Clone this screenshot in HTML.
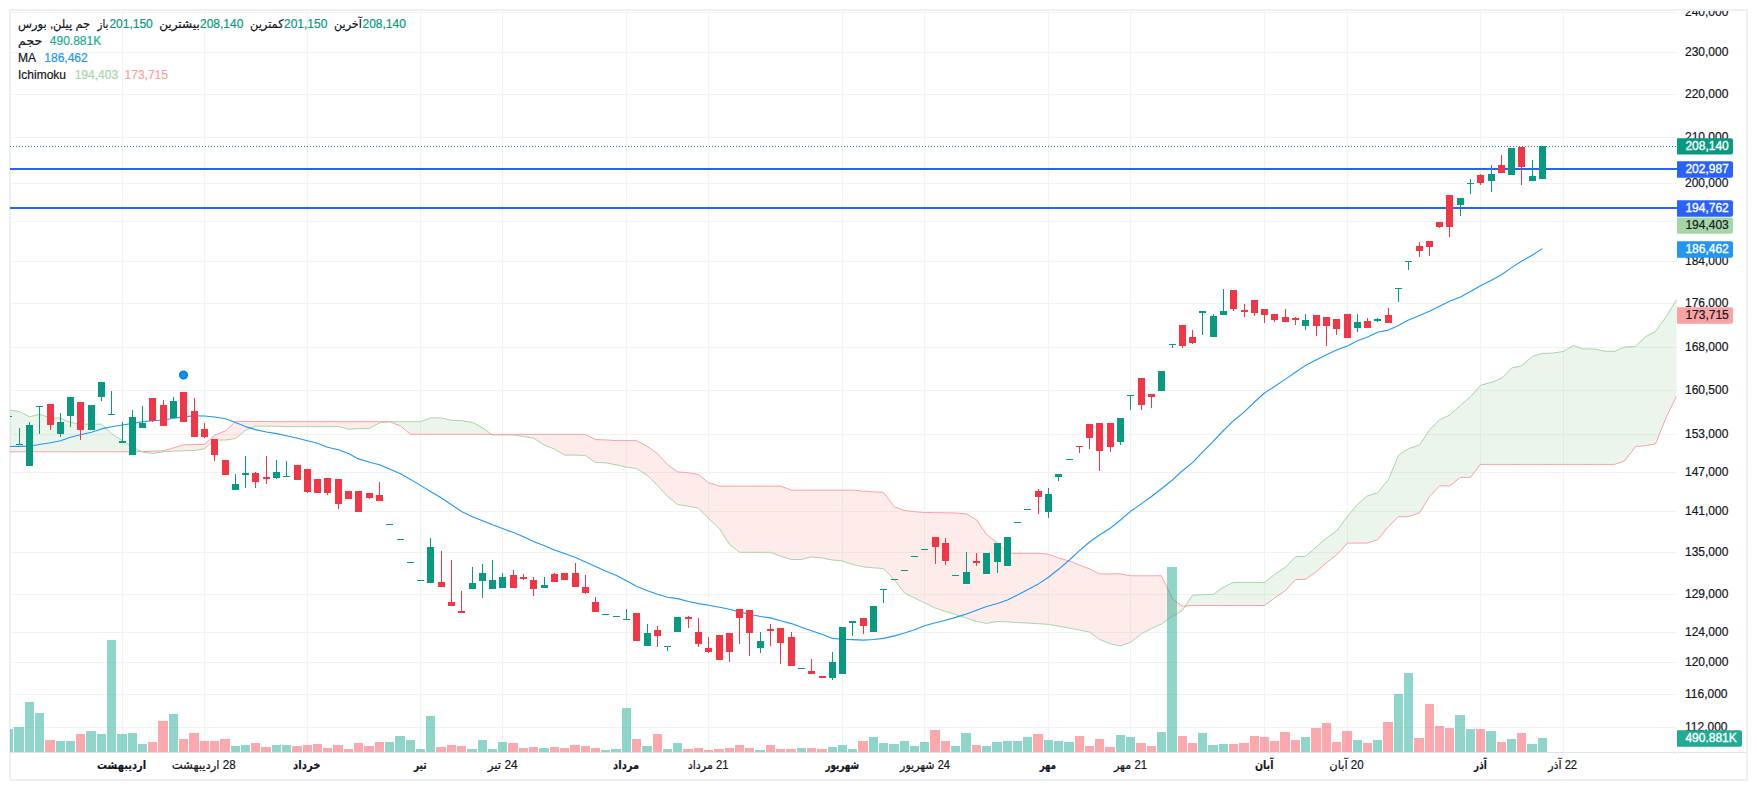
<!DOCTYPE html>
<html lang="fa"><head><meta charset="utf-8"><title>Chart</title>
<style>html,body{margin:0;padding:0;background:#fff}body{width:1757px;height:790px;overflow:hidden}svg{display:block}text{font-family:"Liberation Sans","DejaVu Sans",sans-serif;font-size:12px}</style>
</head><body>
<svg width="1757" height="790" viewBox="0 0 1757 790">
<defs><clipPath id="pane"><rect x="10" y="11" width="1667" height="741"/></clipPath>
<clipPath id="axis"><rect x="1677" y="11" width="69" height="741"/></clipPath></defs>
<rect x="0" y="0" width="1757" height="790" fill="#fff"/>
<rect x="10" y="10" width="1737" height="770" fill="none" stroke="#eeeff5" stroke-width="2"/>
<g shape-rendering="crispEdges" fill="#f1f3f3">
<rect x="10" y="12" width="1667" height="1"/>
<rect x="10" y="52" width="1667" height="1"/>
<rect x="10" y="94" width="1667" height="1"/>
<rect x="10" y="137" width="1667" height="1"/>
<rect x="10" y="183" width="1667" height="1"/>
<rect x="10" y="221" width="1667" height="1"/>
<rect x="10" y="261" width="1667" height="1"/>
<rect x="10" y="303" width="1667" height="1"/>
<rect x="10" y="347" width="1667" height="1"/>
<rect x="10" y="390" width="1667" height="1"/>
<rect x="10" y="434" width="1667" height="1"/>
<rect x="10" y="472" width="1667" height="1"/>
<rect x="10" y="511" width="1667" height="1"/>
<rect x="10" y="552" width="1667" height="1"/>
<rect x="10" y="594" width="1667" height="1"/>
<rect x="10" y="632" width="1667" height="1"/>
<rect x="10" y="662" width="1667" height="1"/>
<rect x="10" y="694" width="1667" height="1"/>
<rect x="10" y="727" width="1667" height="1"/>
<rect x="122" y="11" width="1" height="741"/>
<rect x="204" y="11" width="1" height="741"/>
<rect x="307" y="11" width="1" height="741"/>
<rect x="420" y="11" width="1" height="741"/>
<rect x="502" y="11" width="1" height="741"/>
<rect x="626" y="11" width="1" height="741"/>
<rect x="708" y="11" width="1" height="741"/>
<rect x="842" y="11" width="1" height="741"/>
<rect x="924" y="11" width="1" height="741"/>
<rect x="1048" y="11" width="1" height="741"/>
<rect x="1130" y="11" width="1" height="741"/>
<rect x="1264" y="11" width="1" height="741"/>
<rect x="1347" y="11" width="1" height="741"/>
<rect x="1480" y="11" width="1" height="741"/>
<rect x="1563" y="11" width="1" height="741"/>
</g>
<g clip-path="url(#pane)">
<polygon fill="rgba(67,160,71,0.1)" points="10.0,410.1 19.5,411.6 29.5,416.8 39.5,414.3 50.5,417.9 60.5,418.2 70.5,422.5 80.5,424.2 91.5,424.2 101.5,424.2 111.5,433.6 122.5,440.8 132.5,446.8 141.6,451.5 141.6,451.5 132.5,451.8 122.5,451.8 111.5,451.8 101.5,451.8 91.5,451.8 80.5,451.8 70.5,451.8 60.5,451.8 50.5,451.8 39.5,451.8 29.5,451.8 19.5,451.8 10.0,451.8"/>
<polygon fill="rgba(244,67,54,0.1)" points="141.6,451.5 142.5,452.0 152.5,453.4 163.5,451.8 173.5,451.1 183.5,450.8 194.5,450.5 204.5,448.7 214.5,440.0 225.5,440.0 235.5,438.5 245.5,430.3 255.5,426.2 266.5,426.2 276.5,426.2 286.5,426.7 297.5,426.7 307.5,426.6 317.5,426.6 327.5,426.5 338.5,426.5 348.5,429.3 358.5,428.6 369.5,428.3 379.5,422.9 389.5,421.7 389.5,421.7 379.5,421.7 369.5,421.7 358.5,421.7 348.5,421.6 338.5,421.6 327.5,421.6 317.5,421.6 307.5,421.6 297.5,421.6 286.5,421.6 276.5,421.6 266.5,421.5 255.5,421.5 245.5,421.5 235.5,421.5 225.5,430.8 214.5,435.4 204.5,444.4 194.5,444.6 183.5,444.8 173.5,447.8 163.5,450.8 152.5,451.2 142.5,451.5 141.6,451.5"/>
<polygon fill="rgba(67,160,71,0.1)" points="389.5,421.7 400.5,421.7 410.5,421.7 420.5,421.7 430.5,417.9 441.5,417.9 451.5,420.3 461.5,420.7 472.5,422.4 482.5,427.9 491.7,434.3 491.7,434.3 482.5,434.3 472.5,434.3 461.5,434.3 451.5,434.3 441.5,434.3 430.5,434.3 420.5,434.3 410.5,434.3 400.5,426.0 389.5,421.7"/>
<polygon fill="rgba(244,67,54,0.1)" points="491.7,434.3 492.5,434.9 502.5,434.9 513.5,434.9 523.5,436.5 533.5,438.2 544.5,445.1 554.5,449.1 564.5,455.1 575.5,455.1 585.5,455.4 595.5,462.5 605.5,462.8 616.5,464.9 626.5,467.1 636.5,468.5 647.5,475.7 657.5,485.5 667.5,496.4 677.5,504.5 688.5,506.2 698.5,508.1 708.5,518.5 719.5,528.6 729.5,544.4 739.5,552.3 749.5,552.3 760.5,552.3 770.5,552.3 780.5,556.1 791.5,559.5 801.5,559.5 811.5,556.9 822.5,558.1 832.5,560.0 842.5,561.0 852.5,564.5 863.5,566.9 873.5,567.8 883.5,568.6 894.5,580.0 904.5,593.0 914.5,598.0 924.5,602.8 935.5,608.2 945.5,611.5 955.5,614.4 966.5,618.0 976.5,621.5 986.5,623.4 997.5,621.5 1007.5,621.8 1017.5,622.5 1027.5,623.0 1038.5,623.7 1048.5,624.4 1058.5,626.1 1069.5,628.1 1079.5,630.0 1089.5,632.1 1099.5,639.4 1110.5,643.8 1120.5,646.0 1130.5,642.4 1141.5,633.7 1151.5,628.6 1161.5,624.0 1172.5,616.1 1182.5,610.4 1185.3,606.1 1185.3,606.1 1182.5,606.3 1172.5,598.8 1161.5,575.8 1151.5,575.8 1141.5,575.8 1130.5,575.8 1120.5,573.9 1110.5,573.9 1099.5,573.9 1089.5,568.9 1079.5,565.1 1069.5,561.0 1058.5,557.9 1048.5,554.3 1038.5,553.3 1027.5,553.3 1017.5,553.3 1007.5,553.2 997.5,543.0 986.5,534.4 976.5,519.8 966.5,513.9 955.5,513.0 945.5,512.8 935.5,512.7 924.5,512.5 914.5,511.7 904.5,510.4 894.5,507.0 883.5,492.4 873.5,491.9 863.5,491.2 852.5,490.1 842.5,490.1 832.5,490.1 822.5,490.1 811.5,490.1 801.5,490.1 791.5,490.1 780.5,486.1 770.5,486.1 760.5,486.1 749.5,486.1 739.5,486.1 729.5,486.1 719.5,486.1 708.5,482.8 698.5,474.5 688.5,472.8 677.5,471.9 667.5,464.5 657.5,453.7 647.5,446.5 636.5,440.6 626.5,440.6 616.5,440.6 605.5,439.9 595.5,439.6 585.5,434.4 575.5,434.4 564.5,434.4 554.5,434.4 544.5,434.4 533.5,434.4 523.5,434.4 513.5,434.4 502.5,434.4 492.5,434.4 491.7,434.3"/>
<polygon fill="rgba(67,160,71,0.1)" points="1185.3,606.1 1192.5,595.2 1202.5,594.8 1213.5,594.2 1223.5,587.1 1233.5,582.4 1244.5,582.4 1254.5,582.4 1264.5,582.4 1274.5,574.5 1285.5,567.2 1295.5,556.7 1305.5,556.3 1316.5,546.6 1326.5,538.1 1336.5,531.0 1347.5,516.2 1357.5,504.3 1367.5,495.8 1377.5,492.8 1388.5,479.4 1398.5,455.1 1408.5,448.6 1419.5,445.0 1429.5,429.8 1439.5,419.7 1449.5,415.2 1460.5,405.3 1470.5,396.7 1480.5,385.3 1491.5,382.3 1501.5,378.4 1511.5,368.0 1521.5,365.9 1532.5,356.3 1542.5,353.4 1552.5,353.1 1563.5,351.5 1573.5,345.4 1583.5,349.0 1594.5,349.0 1604.5,351.1 1614.5,351.3 1624.5,347.0 1635.5,346.5 1645.5,336.7 1655.5,331.5 1666.5,316.2 1676.5,299.6 1676.5,396.4 1666.5,416.5 1655.5,443.9 1645.5,445.7 1635.5,446.6 1624.5,461.0 1614.5,464.4 1604.5,464.4 1594.5,464.4 1583.5,464.4 1573.5,464.4 1563.5,464.4 1552.5,464.4 1542.5,464.4 1532.5,464.4 1521.5,464.4 1511.5,464.4 1501.5,464.4 1491.5,464.4 1480.5,464.4 1470.5,477.4 1460.5,477.4 1449.5,485.9 1439.5,485.9 1429.5,496.6 1419.5,512.8 1408.5,516.7 1398.5,516.7 1388.5,526.6 1377.5,539.8 1367.5,543.0 1357.5,543.1 1347.5,543.1 1336.5,555.1 1326.5,562.8 1316.5,571.5 1305.5,579.2 1295.5,579.6 1285.5,590.5 1274.5,598.2 1264.5,605.5 1254.5,605.5 1244.5,605.5 1233.5,605.5 1223.5,605.5 1213.5,605.5 1202.5,605.5 1192.5,605.5 1185.3,606.1"/>
<polyline fill="none" stroke="#a5d6a7" stroke-width="1" stroke-linejoin="round" points="10.0,410.1 19.5,411.6 29.5,416.8 39.5,414.3 50.5,417.9 60.5,418.2 70.5,422.5 80.5,424.2 91.5,424.2 101.5,424.2 111.5,433.6 122.5,440.8 132.5,446.8 142.5,452.0 152.5,453.4 163.5,451.8 173.5,451.1 183.5,450.8 194.5,450.5 204.5,448.7 214.5,440.0 225.5,440.0 235.5,438.5 245.5,430.3 255.5,426.2 266.5,426.2 276.5,426.2 286.5,426.7 297.5,426.7 307.5,426.6 317.5,426.6 327.5,426.5 338.5,426.5 348.5,429.3 358.5,428.6 369.5,428.3 379.5,422.9 389.5,421.7 400.5,421.7 410.5,421.7 420.5,421.7 430.5,417.9 441.5,417.9 451.5,420.3 461.5,420.7 472.5,422.4 482.5,427.9 492.5,434.9 502.5,434.9 513.5,434.9 523.5,436.5 533.5,438.2 544.5,445.1 554.5,449.1 564.5,455.1 575.5,455.1 585.5,455.4 595.5,462.5 605.5,462.8 616.5,464.9 626.5,467.1 636.5,468.5 647.5,475.7 657.5,485.5 667.5,496.4 677.5,504.5 688.5,506.2 698.5,508.1 708.5,518.5 719.5,528.6 729.5,544.4 739.5,552.3 749.5,552.3 760.5,552.3 770.5,552.3 780.5,556.1 791.5,559.5 801.5,559.5 811.5,556.9 822.5,558.1 832.5,560.0 842.5,561.0 852.5,564.5 863.5,566.9 873.5,567.8 883.5,568.6 894.5,580.0 904.5,593.0 914.5,598.0 924.5,602.8 935.5,608.2 945.5,611.5 955.5,614.4 966.5,618.0 976.5,621.5 986.5,623.4 997.5,621.5 1007.5,621.8 1017.5,622.5 1027.5,623.0 1038.5,623.7 1048.5,624.4 1058.5,626.1 1069.5,628.1 1079.5,630.0 1089.5,632.1 1099.5,639.4 1110.5,643.8 1120.5,646.0 1130.5,642.4 1141.5,633.7 1151.5,628.6 1161.5,624.0 1172.5,616.1 1182.5,610.4 1192.5,595.2 1202.5,594.8 1213.5,594.2 1223.5,587.1 1233.5,582.4 1244.5,582.4 1254.5,582.4 1264.5,582.4 1274.5,574.5 1285.5,567.2 1295.5,556.7 1305.5,556.3 1316.5,546.6 1326.5,538.1 1336.5,531.0 1347.5,516.2 1357.5,504.3 1367.5,495.8 1377.5,492.8 1388.5,479.4 1398.5,455.1 1408.5,448.6 1419.5,445.0 1429.5,429.8 1439.5,419.7 1449.5,415.2 1460.5,405.3 1470.5,396.7 1480.5,385.3 1491.5,382.3 1501.5,378.4 1511.5,368.0 1521.5,365.9 1532.5,356.3 1542.5,353.4 1552.5,353.1 1563.5,351.5 1573.5,345.4 1583.5,349.0 1594.5,349.0 1604.5,351.1 1614.5,351.3 1624.5,347.0 1635.5,346.5 1645.5,336.7 1655.5,331.5 1666.5,316.2 1676.5,299.6"/>
<polyline fill="none" stroke="#faa1a4" stroke-width="1" stroke-linejoin="round" points="10.0,451.8 19.5,451.8 29.5,451.8 39.5,451.8 50.5,451.8 60.5,451.8 70.5,451.8 80.5,451.8 91.5,451.8 101.5,451.8 111.5,451.8 122.5,451.8 132.5,451.8 142.5,451.5 152.5,451.2 163.5,450.8 173.5,447.8 183.5,444.8 194.5,444.6 204.5,444.4 214.5,435.4 225.5,430.8 235.5,421.5 245.5,421.5 255.5,421.5 266.5,421.5 276.5,421.6 286.5,421.6 297.5,421.6 307.5,421.6 317.5,421.6 327.5,421.6 338.5,421.6 348.5,421.6 358.5,421.7 369.5,421.7 379.5,421.7 389.5,421.7 400.5,426.0 410.5,434.3 420.5,434.3 430.5,434.3 441.5,434.3 451.5,434.3 461.5,434.3 472.5,434.3 482.5,434.3 492.5,434.4 502.5,434.4 513.5,434.4 523.5,434.4 533.5,434.4 544.5,434.4 554.5,434.4 564.5,434.4 575.5,434.4 585.5,434.4 595.5,439.6 605.5,439.9 616.5,440.6 626.5,440.6 636.5,440.6 647.5,446.5 657.5,453.7 667.5,464.5 677.5,471.9 688.5,472.8 698.5,474.5 708.5,482.8 719.5,486.1 729.5,486.1 739.5,486.1 749.5,486.1 760.5,486.1 770.5,486.1 780.5,486.1 791.5,490.1 801.5,490.1 811.5,490.1 822.5,490.1 832.5,490.1 842.5,490.1 852.5,490.1 863.5,491.2 873.5,491.9 883.5,492.4 894.5,507.0 904.5,510.4 914.5,511.7 924.5,512.5 935.5,512.7 945.5,512.8 955.5,513.0 966.5,513.9 976.5,519.8 986.5,534.4 997.5,543.0 1007.5,553.2 1017.5,553.3 1027.5,553.3 1038.5,553.3 1048.5,554.3 1058.5,557.9 1069.5,561.0 1079.5,565.1 1089.5,568.9 1099.5,573.9 1110.5,573.9 1120.5,573.9 1130.5,575.8 1141.5,575.8 1151.5,575.8 1161.5,575.8 1172.5,598.8 1182.5,606.3 1192.5,605.5 1202.5,605.5 1213.5,605.5 1223.5,605.5 1233.5,605.5 1244.5,605.5 1254.5,605.5 1264.5,605.5 1274.5,598.2 1285.5,590.5 1295.5,579.6 1305.5,579.2 1316.5,571.5 1326.5,562.8 1336.5,555.1 1347.5,543.1 1357.5,543.1 1367.5,543.0 1377.5,539.8 1388.5,526.6 1398.5,516.7 1408.5,516.7 1419.5,512.8 1429.5,496.6 1439.5,485.9 1449.5,485.9 1460.5,477.4 1470.5,477.4 1480.5,464.4 1491.5,464.4 1501.5,464.4 1511.5,464.4 1521.5,464.4 1532.5,464.4 1542.5,464.4 1552.5,464.4 1563.5,464.4 1573.5,464.4 1583.5,464.4 1594.5,464.4 1604.5,464.4 1614.5,464.4 1624.5,461.0 1635.5,446.6 1645.5,445.7 1655.5,443.9 1666.5,416.5 1676.5,396.4"/>
<g shape-rendering="crispEdges">
<rect x="4" y="729" width="9" height="23" fill="rgba(34,171,148,0.5)"/>
<rect x="14" y="727" width="10" height="25" fill="rgba(34,171,148,0.5)"/>
<rect x="25" y="702" width="9" height="50" fill="rgba(34,171,148,0.5)"/>
<rect x="35" y="713" width="9" height="39" fill="rgba(34,171,148,0.5)"/>
<rect x="45" y="740" width="10" height="12" fill="rgba(247,82,95,0.5)"/>
<rect x="56" y="741" width="9" height="11" fill="rgba(34,171,148,0.5)"/>
<rect x="66" y="741" width="9" height="11" fill="rgba(34,171,148,0.5)"/>
<rect x="76" y="734" width="9" height="18" fill="rgba(247,82,95,0.5)"/>
<rect x="86" y="731" width="10" height="21" fill="rgba(34,171,148,0.5)"/>
<rect x="97" y="734" width="9" height="18" fill="rgba(34,171,148,0.5)"/>
<rect x="107" y="640" width="9" height="112" fill="rgba(34,171,148,0.5)"/>
<rect x="117" y="734" width="10" height="18" fill="rgba(34,171,148,0.5)"/>
<rect x="128" y="733" width="9" height="19" fill="rgba(34,171,148,0.5)"/>
<rect x="138" y="744" width="9" height="8" fill="rgba(34,171,148,0.5)"/>
<rect x="148" y="742" width="9" height="10" fill="rgba(247,82,95,0.5)"/>
<rect x="158" y="721" width="10" height="31" fill="rgba(247,82,95,0.5)"/>
<rect x="169" y="714" width="9" height="38" fill="rgba(34,171,148,0.5)"/>
<rect x="179" y="739" width="9" height="13" fill="rgba(247,82,95,0.5)"/>
<rect x="189" y="733" width="10" height="19" fill="rgba(247,82,95,0.5)"/>
<rect x="200" y="741" width="9" height="11" fill="rgba(247,82,95,0.5)"/>
<rect x="210" y="741" width="9" height="11" fill="rgba(247,82,95,0.5)"/>
<rect x="220" y="739" width="10" height="13" fill="rgba(247,82,95,0.5)"/>
<rect x="231" y="746" width="9" height="6" fill="rgba(34,171,148,0.5)"/>
<rect x="241" y="745" width="9" height="7" fill="rgba(34,171,148,0.5)"/>
<rect x="251" y="743" width="9" height="9" fill="rgba(247,82,95,0.5)"/>
<rect x="261" y="747" width="10" height="5" fill="rgba(247,82,95,0.5)"/>
<rect x="272" y="745" width="9" height="7" fill="rgba(34,171,148,0.5)"/>
<rect x="282" y="745" width="9" height="7" fill="rgba(34,171,148,0.5)"/>
<rect x="292" y="746" width="10" height="6" fill="rgba(247,82,95,0.5)"/>
<rect x="303" y="745" width="9" height="7" fill="rgba(247,82,95,0.5)"/>
<rect x="313" y="744" width="9" height="8" fill="rgba(247,82,95,0.5)"/>
<rect x="323" y="748" width="9" height="4" fill="rgba(247,82,95,0.5)"/>
<rect x="333" y="745" width="10" height="7" fill="rgba(247,82,95,0.5)"/>
<rect x="344" y="749" width="9" height="3" fill="rgba(247,82,95,0.5)"/>
<rect x="354" y="743" width="9" height="9" fill="rgba(247,82,95,0.5)"/>
<rect x="364" y="746" width="10" height="6" fill="rgba(247,82,95,0.5)"/>
<rect x="375" y="742" width="9" height="10" fill="rgba(247,82,95,0.5)"/>
<rect x="385" y="742" width="9" height="10" fill="rgba(34,171,148,0.5)"/>
<rect x="395" y="736" width="10" height="16" fill="rgba(34,171,148,0.5)"/>
<rect x="406" y="740" width="9" height="12" fill="rgba(34,171,148,0.5)"/>
<rect x="416" y="749" width="9" height="3" fill="rgba(34,171,148,0.5)"/>
<rect x="426" y="716" width="9" height="36" fill="rgba(34,171,148,0.5)"/>
<rect x="436" y="747" width="10" height="5" fill="rgba(247,82,95,0.5)"/>
<rect x="447" y="745" width="9" height="7" fill="rgba(247,82,95,0.5)"/>
<rect x="457" y="746" width="9" height="6" fill="rgba(247,82,95,0.5)"/>
<rect x="467" y="749" width="10" height="3" fill="rgba(34,171,148,0.5)"/>
<rect x="478" y="740" width="9" height="12" fill="rgba(34,171,148,0.5)"/>
<rect x="488" y="749" width="9" height="3" fill="rgba(34,171,148,0.5)"/>
<rect x="498" y="742" width="9" height="10" fill="rgba(34,171,148,0.5)"/>
<rect x="508" y="743" width="10" height="9" fill="rgba(247,82,95,0.5)"/>
<rect x="519" y="748" width="9" height="4" fill="rgba(247,82,95,0.5)"/>
<rect x="529" y="747" width="9" height="5" fill="rgba(247,82,95,0.5)"/>
<rect x="539" y="748" width="10" height="4" fill="rgba(34,171,148,0.5)"/>
<rect x="550" y="747" width="9" height="5" fill="rgba(247,82,95,0.5)"/>
<rect x="560" y="748" width="9" height="4" fill="rgba(247,82,95,0.5)"/>
<rect x="570" y="745" width="10" height="7" fill="rgba(247,82,95,0.5)"/>
<rect x="581" y="746" width="9" height="6" fill="rgba(247,82,95,0.5)"/>
<rect x="591" y="748" width="9" height="4" fill="rgba(247,82,95,0.5)"/>
<rect x="601" y="750" width="9" height="2" fill="rgba(34,171,148,0.5)"/>
<rect x="611" y="749" width="10" height="3" fill="rgba(34,171,148,0.5)"/>
<rect x="622" y="708" width="9" height="44" fill="rgba(34,171,148,0.5)"/>
<rect x="632" y="739" width="9" height="13" fill="rgba(247,82,95,0.5)"/>
<rect x="642" y="746" width="10" height="6" fill="rgba(34,171,148,0.5)"/>
<rect x="653" y="734" width="9" height="18" fill="rgba(247,82,95,0.5)"/>
<rect x="663" y="749" width="9" height="3" fill="rgba(34,171,148,0.5)"/>
<rect x="673" y="743" width="9" height="9" fill="rgba(34,171,148,0.5)"/>
<rect x="683" y="749" width="10" height="3" fill="rgba(247,82,95,0.5)"/>
<rect x="694" y="748" width="9" height="4" fill="rgba(247,82,95,0.5)"/>
<rect x="704" y="750" width="9" height="2" fill="rgba(247,82,95,0.5)"/>
<rect x="714" y="749" width="10" height="3" fill="rgba(247,82,95,0.5)"/>
<rect x="725" y="748" width="9" height="4" fill="rgba(247,82,95,0.5)"/>
<rect x="735" y="745" width="9" height="7" fill="rgba(247,82,95,0.5)"/>
<rect x="745" y="748" width="9" height="4" fill="rgba(247,82,95,0.5)"/>
<rect x="755" y="750" width="10" height="2" fill="rgba(34,171,148,0.5)"/>
<rect x="766" y="745" width="9" height="7" fill="rgba(247,82,95,0.5)"/>
<rect x="776" y="749" width="9" height="3" fill="rgba(247,82,95,0.5)"/>
<rect x="786" y="749" width="10" height="3" fill="rgba(247,82,95,0.5)"/>
<rect x="797" y="748" width="9" height="4" fill="rgba(34,171,148,0.5)"/>
<rect x="807" y="748" width="9" height="4" fill="rgba(247,82,95,0.5)"/>
<rect x="817" y="749" width="10" height="3" fill="rgba(247,82,95,0.5)"/>
<rect x="828" y="747" width="9" height="5" fill="rgba(34,171,148,0.5)"/>
<rect x="838" y="745" width="9" height="7" fill="rgba(34,171,148,0.5)"/>
<rect x="848" y="749" width="9" height="3" fill="rgba(34,171,148,0.5)"/>
<rect x="858" y="741" width="10" height="11" fill="rgba(247,82,95,0.5)"/>
<rect x="869" y="737" width="9" height="15" fill="rgba(34,171,148,0.5)"/>
<rect x="879" y="743" width="9" height="9" fill="rgba(34,171,148,0.5)"/>
<rect x="889" y="744" width="10" height="8" fill="rgba(34,171,148,0.5)"/>
<rect x="900" y="741" width="9" height="11" fill="rgba(34,171,148,0.5)"/>
<rect x="910" y="746" width="9" height="6" fill="rgba(34,171,148,0.5)"/>
<rect x="920" y="742" width="9" height="10" fill="rgba(34,171,148,0.5)"/>
<rect x="930" y="730" width="10" height="22" fill="rgba(247,82,95,0.5)"/>
<rect x="941" y="741" width="9" height="11" fill="rgba(247,82,95,0.5)"/>
<rect x="951" y="746" width="9" height="6" fill="rgba(34,171,148,0.5)"/>
<rect x="961" y="733" width="10" height="19" fill="rgba(34,171,148,0.5)"/>
<rect x="972" y="745" width="9" height="7" fill="rgba(247,82,95,0.5)"/>
<rect x="982" y="746" width="9" height="6" fill="rgba(34,171,148,0.5)"/>
<rect x="992" y="742" width="10" height="10" fill="rgba(34,171,148,0.5)"/>
<rect x="1003" y="741" width="9" height="11" fill="rgba(34,171,148,0.5)"/>
<rect x="1013" y="741" width="9" height="11" fill="rgba(34,171,148,0.5)"/>
<rect x="1023" y="737" width="9" height="15" fill="rgba(34,171,148,0.5)"/>
<rect x="1033" y="734" width="10" height="18" fill="rgba(247,82,95,0.5)"/>
<rect x="1044" y="740" width="9" height="12" fill="rgba(34,171,148,0.5)"/>
<rect x="1054" y="741" width="9" height="11" fill="rgba(34,171,148,0.5)"/>
<rect x="1064" y="742" width="10" height="10" fill="rgba(34,171,148,0.5)"/>
<rect x="1075" y="736" width="9" height="16" fill="rgba(247,82,95,0.5)"/>
<rect x="1085" y="746" width="9" height="6" fill="rgba(247,82,95,0.5)"/>
<rect x="1095" y="739" width="9" height="13" fill="rgba(247,82,95,0.5)"/>
<rect x="1105" y="747" width="10" height="5" fill="rgba(247,82,95,0.5)"/>
<rect x="1116" y="735" width="9" height="17" fill="rgba(34,171,148,0.5)"/>
<rect x="1126" y="737" width="9" height="15" fill="rgba(34,171,148,0.5)"/>
<rect x="1136" y="743" width="10" height="9" fill="rgba(247,82,95,0.5)"/>
<rect x="1147" y="746" width="9" height="6" fill="rgba(247,82,95,0.5)"/>
<rect x="1157" y="732" width="9" height="20" fill="rgba(34,171,148,0.5)"/>
<rect x="1167" y="567" width="10" height="185" fill="rgba(34,171,148,0.5)"/>
<rect x="1178" y="736" width="9" height="16" fill="rgba(247,82,95,0.5)"/>
<rect x="1188" y="743" width="9" height="9" fill="rgba(247,82,95,0.5)"/>
<rect x="1198" y="733" width="9" height="19" fill="rgba(34,171,148,0.5)"/>
<rect x="1208" y="745" width="10" height="7" fill="rgba(34,171,148,0.5)"/>
<rect x="1219" y="744" width="9" height="8" fill="rgba(34,171,148,0.5)"/>
<rect x="1229" y="744" width="9" height="8" fill="rgba(247,82,95,0.5)"/>
<rect x="1239" y="743" width="10" height="9" fill="rgba(247,82,95,0.5)"/>
<rect x="1250" y="736" width="9" height="16" fill="rgba(247,82,95,0.5)"/>
<rect x="1260" y="737" width="9" height="15" fill="rgba(247,82,95,0.5)"/>
<rect x="1270" y="741" width="9" height="11" fill="rgba(247,82,95,0.5)"/>
<rect x="1280" y="732" width="10" height="20" fill="rgba(247,82,95,0.5)"/>
<rect x="1291" y="740" width="9" height="12" fill="rgba(247,82,95,0.5)"/>
<rect x="1301" y="737" width="9" height="15" fill="rgba(34,171,148,0.5)"/>
<rect x="1311" y="728" width="10" height="24" fill="rgba(247,82,95,0.5)"/>
<rect x="1322" y="723" width="9" height="29" fill="rgba(247,82,95,0.5)"/>
<rect x="1332" y="742" width="9" height="10" fill="rgba(247,82,95,0.5)"/>
<rect x="1342" y="731" width="10" height="21" fill="rgba(247,82,95,0.5)"/>
<rect x="1353" y="740" width="9" height="12" fill="rgba(34,171,148,0.5)"/>
<rect x="1363" y="743" width="9" height="9" fill="rgba(247,82,95,0.5)"/>
<rect x="1373" y="740" width="9" height="12" fill="rgba(34,171,148,0.5)"/>
<rect x="1383" y="722" width="10" height="30" fill="rgba(247,82,95,0.5)"/>
<rect x="1394" y="694" width="9" height="58" fill="rgba(34,171,148,0.5)"/>
<rect x="1404" y="673" width="9" height="79" fill="rgba(34,171,148,0.5)"/>
<rect x="1414" y="738" width="10" height="14" fill="rgba(247,82,95,0.5)"/>
<rect x="1425" y="704" width="9" height="48" fill="rgba(247,82,95,0.5)"/>
<rect x="1435" y="726" width="9" height="26" fill="rgba(247,82,95,0.5)"/>
<rect x="1445" y="728" width="9" height="24" fill="rgba(247,82,95,0.5)"/>
<rect x="1455" y="715" width="10" height="37" fill="rgba(34,171,148,0.5)"/>
<rect x="1466" y="729" width="9" height="23" fill="rgba(34,171,148,0.5)"/>
<rect x="1476" y="729" width="9" height="23" fill="rgba(247,82,95,0.5)"/>
<rect x="1486" y="731" width="10" height="21" fill="rgba(34,171,148,0.5)"/>
<rect x="1497" y="742" width="9" height="10" fill="rgba(247,82,95,0.5)"/>
<rect x="1507" y="739" width="9" height="13" fill="rgba(34,171,148,0.5)"/>
<rect x="1517" y="733" width="9" height="19" fill="rgba(247,82,95,0.5)"/>
<rect x="1527" y="744" width="10" height="8" fill="rgba(34,171,148,0.5)"/>
<rect x="1538" y="738" width="9" height="14" fill="rgba(34,171,148,0.5)"/>
</g>
<g shape-rendering="crispEdges">
<rect x="10" y="168" width="1667" height="2" fill="#2962ff"/>
<rect x="10" y="207" width="1667" height="2" fill="#2962ff"/>
<line x1="10" y1="146.5" x2="1677" y2="146.5" stroke="#089981" stroke-width="1" stroke-dasharray="1 2"/>
</g>
<polyline fill="none" stroke="#2196f3" stroke-width="1.1" stroke-linejoin="round" points="10.0,446.5 19.5,446.4 29.5,446.2 39.5,444.5 50.5,442.7 60.5,440.8 70.5,437.2 80.5,434.7 91.5,432.2 101.5,428.9 111.5,426.8 122.5,425.0 132.5,423.4 142.5,421.8 152.5,420.8 163.5,420.0 173.5,418.2 183.5,416.9 194.5,415.8 204.5,416.0 214.5,417.0 225.5,418.8 235.5,422.6 245.5,426.6 255.5,429.6 266.5,432.0 276.5,433.6 286.5,435.8 297.5,438.3 307.5,440.8 317.5,443.3 327.5,447.2 338.5,449.8 348.5,453.6 358.5,458.9 369.5,462.2 379.5,464.8 389.5,469.1 400.5,473.7 410.5,479.4 420.5,485.4 430.5,491.5 441.5,498.0 451.5,504.8 461.5,511.5 472.5,516.7 482.5,520.7 492.5,524.7 502.5,528.6 513.5,532.6 523.5,536.8 533.5,541.5 544.5,545.8 554.5,550.0 564.5,553.6 575.5,557.6 585.5,561.9 595.5,566.5 605.5,571.1 616.5,575.6 626.5,580.7 636.5,586.2 647.5,590.7 657.5,594.3 667.5,597.2 677.5,598.6 688.5,601.5 698.5,603.6 708.5,605.3 719.5,607.2 729.5,609.3 739.5,611.9 749.5,614.3 760.5,616.5 770.5,617.9 780.5,620.8 791.5,623.6 801.5,627.2 811.5,630.8 822.5,634.5 832.5,638.4 842.5,639.3 852.5,639.6 863.5,640.1 873.5,639.5 883.5,638.4 894.5,635.9 904.5,633.0 914.5,629.8 924.5,625.7 935.5,622.8 945.5,620.2 955.5,617.4 966.5,614.0 976.5,610.2 986.5,606.5 997.5,603.5 1007.5,600.1 1017.5,595.1 1027.5,589.8 1038.5,583.9 1048.5,577.2 1058.5,569.3 1069.5,560.0 1079.5,550.7 1089.5,542.0 1099.5,535.0 1110.5,528.0 1120.5,520.0 1130.5,511.3 1140.5,504.4 1151.5,496.5 1161.5,488.7 1171.5,480.8 1181.5,471.5 1192.5,462.6 1202.5,452.2 1212.5,442.2 1222.5,431.5 1233.5,420.7 1243.5,412.6 1254.5,402.0 1264.5,393.0 1274.5,386.5 1285.5,379.1 1295.5,372.2 1305.5,365.4 1316.5,359.8 1326.5,354.7 1336.5,350.1 1347.5,346.1 1357.5,340.8 1367.5,337.0 1377.5,332.3 1388.5,330.1 1398.5,325.5 1408.5,320.1 1419.5,315.4 1429.5,311.2 1439.5,306.2 1449.5,301.2 1460.5,296.9 1470.5,291.5 1480.5,285.8 1490.5,280.8 1501.5,274.8 1511.5,267.6 1521.5,261.2 1532.5,255.0 1542.5,248.6"/>
<g shape-rendering="crispEdges">
<rect x="5" y="416" width="7" height="1" fill="#089981"/>
<rect x="19" y="428" width="1" height="17" fill="#089981"/>
<rect x="16" y="444" width="7" height="1" fill="#089981"/>
<rect x="29" y="422" width="1" height="44" fill="#089981"/>
<rect x="26" y="425" width="7" height="41" fill="#089981"/>
<rect x="39" y="406" width="1" height="28" fill="#089981"/>
<rect x="36" y="406" width="7" height="1" fill="#089981"/>
<rect x="50" y="404" width="1" height="26" fill="#f23645"/>
<rect x="47" y="404" width="7" height="21" fill="#f23645"/>
<rect x="60" y="413" width="1" height="24" fill="#089981"/>
<rect x="57" y="422" width="7" height="12" fill="#089981"/>
<rect x="70" y="397" width="1" height="30" fill="#089981"/>
<rect x="67" y="397" width="7" height="19" fill="#089981"/>
<rect x="80" y="402" width="1" height="38" fill="#f23645"/>
<rect x="77" y="402" width="7" height="28" fill="#f23645"/>
<rect x="88" y="405" width="7" height="25" fill="#089981"/>
<rect x="101" y="382" width="1" height="19" fill="#089981"/>
<rect x="98" y="382" width="7" height="15" fill="#089981"/>
<rect x="111" y="391" width="1" height="24" fill="#089981"/>
<rect x="108" y="414" width="7" height="1" fill="#089981"/>
<rect x="122" y="422" width="1" height="21" fill="#089981"/>
<rect x="119" y="441" width="7" height="2" fill="#089981"/>
<rect x="132" y="410" width="1" height="45" fill="#089981"/>
<rect x="129" y="417" width="7" height="38" fill="#089981"/>
<rect x="142" y="406" width="1" height="22" fill="#089981"/>
<rect x="139" y="423" width="7" height="5" fill="#089981"/>
<rect x="152" y="398" width="1" height="24" fill="#f23645"/>
<rect x="149" y="398" width="7" height="23" fill="#f23645"/>
<rect x="163" y="400" width="1" height="26" fill="#f23645"/>
<rect x="160" y="405" width="7" height="21" fill="#f23645"/>
<rect x="173" y="397" width="1" height="21" fill="#089981"/>
<rect x="170" y="401" width="7" height="17" fill="#089981"/>
<rect x="180" y="392" width="7" height="30" fill="#f23645"/>
<rect x="194" y="398" width="1" height="39" fill="#f23645"/>
<rect x="191" y="411" width="7" height="26" fill="#f23645"/>
<rect x="204" y="423" width="1" height="15" fill="#f23645"/>
<rect x="201" y="429" width="7" height="8" fill="#f23645"/>
<rect x="214" y="439" width="1" height="22" fill="#f23645"/>
<rect x="211" y="439" width="7" height="16" fill="#f23645"/>
<rect x="222" y="460" width="7" height="15" fill="#f23645"/>
<rect x="235" y="474" width="1" height="16" fill="#089981"/>
<rect x="232" y="484" width="7" height="6" fill="#089981"/>
<rect x="245" y="456" width="1" height="32" fill="#089981"/>
<rect x="242" y="473" width="7" height="2" fill="#089981"/>
<rect x="255" y="472" width="1" height="16" fill="#f23645"/>
<rect x="252" y="473" width="7" height="9" fill="#f23645"/>
<rect x="266" y="456" width="1" height="28" fill="#f23645"/>
<rect x="263" y="477" width="7" height="2" fill="#f23645"/>
<rect x="276" y="460" width="1" height="19" fill="#089981"/>
<rect x="273" y="472" width="7" height="6" fill="#089981"/>
<rect x="286" y="461" width="1" height="16" fill="#089981"/>
<rect x="283" y="476" width="7" height="1" fill="#089981"/>
<rect x="294" y="465" width="7" height="15" fill="#f23645"/>
<rect x="307" y="469" width="1" height="24" fill="#f23645"/>
<rect x="304" y="469" width="7" height="23" fill="#f23645"/>
<rect x="314" y="479" width="7" height="14" fill="#f23645"/>
<rect x="327" y="478" width="1" height="17" fill="#f23645"/>
<rect x="324" y="478" width="7" height="15" fill="#f23645"/>
<rect x="338" y="479" width="1" height="30" fill="#f23645"/>
<rect x="335" y="479" width="7" height="25" fill="#f23645"/>
<rect x="345" y="491" width="7" height="8" fill="#f23645"/>
<rect x="355" y="491" width="7" height="21" fill="#f23645"/>
<rect x="369" y="493" width="1" height="6" fill="#f23645"/>
<rect x="366" y="493" width="7" height="5" fill="#f23645"/>
<rect x="379" y="482" width="1" height="19" fill="#f23645"/>
<rect x="376" y="495" width="7" height="6" fill="#f23645"/>
<rect x="386" y="524" width="7" height="1" fill="#089981"/>
<rect x="397" y="539" width="7" height="1" fill="#089981"/>
<rect x="407" y="562" width="7" height="1" fill="#089981"/>
<rect x="417" y="580" width="7" height="1" fill="#089981"/>
<rect x="430" y="538" width="1" height="45" fill="#089981"/>
<rect x="427" y="547" width="7" height="36" fill="#089981"/>
<rect x="441" y="551" width="1" height="36" fill="#f23645"/>
<rect x="438" y="582" width="7" height="5" fill="#f23645"/>
<rect x="451" y="560" width="1" height="46" fill="#f23645"/>
<rect x="448" y="602" width="7" height="4" fill="#f23645"/>
<rect x="461" y="591" width="1" height="22" fill="#f23645"/>
<rect x="458" y="611" width="7" height="2" fill="#f23645"/>
<rect x="472" y="567" width="1" height="22" fill="#089981"/>
<rect x="469" y="583" width="7" height="6" fill="#089981"/>
<rect x="482" y="564" width="1" height="34" fill="#089981"/>
<rect x="479" y="573" width="7" height="8" fill="#089981"/>
<rect x="492" y="560" width="1" height="29" fill="#089981"/>
<rect x="489" y="580" width="7" height="9" fill="#089981"/>
<rect x="502" y="573" width="1" height="15" fill="#089981"/>
<rect x="499" y="577" width="7" height="11" fill="#089981"/>
<rect x="513" y="570" width="1" height="18" fill="#f23645"/>
<rect x="510" y="575" width="7" height="13" fill="#f23645"/>
<rect x="523" y="574" width="1" height="6" fill="#f23645"/>
<rect x="520" y="577" width="7" height="2" fill="#f23645"/>
<rect x="533" y="577" width="1" height="19" fill="#f23645"/>
<rect x="530" y="580" width="7" height="9" fill="#f23645"/>
<rect x="544" y="577" width="1" height="11" fill="#089981"/>
<rect x="541" y="585" width="7" height="3" fill="#089981"/>
<rect x="554" y="573" width="1" height="9" fill="#f23645"/>
<rect x="551" y="574" width="7" height="8" fill="#f23645"/>
<rect x="561" y="573" width="7" height="7" fill="#f23645"/>
<rect x="575" y="563" width="1" height="24" fill="#f23645"/>
<rect x="572" y="573" width="7" height="14" fill="#f23645"/>
<rect x="585" y="575" width="1" height="19" fill="#f23645"/>
<rect x="582" y="587" width="7" height="6" fill="#f23645"/>
<rect x="595" y="597" width="1" height="15" fill="#f23645"/>
<rect x="592" y="602" width="7" height="10" fill="#f23645"/>
<rect x="602" y="614" width="7" height="1" fill="#089981"/>
<rect x="613" y="616" width="7" height="1" fill="#089981"/>
<rect x="626" y="609" width="1" height="11" fill="#089981"/>
<rect x="623" y="619" width="7" height="1" fill="#089981"/>
<rect x="633" y="613" width="7" height="28" fill="#f23645"/>
<rect x="647" y="624" width="1" height="22" fill="#089981"/>
<rect x="644" y="633" width="7" height="13" fill="#089981"/>
<rect x="657" y="626" width="1" height="21" fill="#f23645"/>
<rect x="654" y="630" width="7" height="6" fill="#f23645"/>
<rect x="667" y="646" width="1" height="5" fill="#089981"/>
<rect x="664" y="646" width="7" height="1" fill="#089981"/>
<rect x="674" y="617" width="7" height="15" fill="#089981"/>
<rect x="688" y="616" width="1" height="12" fill="#f23645"/>
<rect x="685" y="617" width="7" height="2" fill="#f23645"/>
<rect x="698" y="618" width="1" height="29" fill="#f23645"/>
<rect x="695" y="632" width="7" height="12" fill="#f23645"/>
<rect x="708" y="637" width="1" height="16" fill="#f23645"/>
<rect x="705" y="648" width="7" height="4" fill="#f23645"/>
<rect x="716" y="635" width="7" height="25" fill="#f23645"/>
<rect x="729" y="633" width="1" height="29" fill="#f23645"/>
<rect x="726" y="633" width="7" height="19" fill="#f23645"/>
<rect x="739" y="609" width="1" height="35" fill="#f23645"/>
<rect x="736" y="609" width="7" height="9" fill="#f23645"/>
<rect x="749" y="610" width="1" height="46" fill="#f23645"/>
<rect x="746" y="610" width="7" height="23" fill="#f23645"/>
<rect x="760" y="632" width="1" height="21" fill="#089981"/>
<rect x="757" y="641" width="7" height="7" fill="#089981"/>
<rect x="770" y="624" width="1" height="22" fill="#f23645"/>
<rect x="767" y="629" width="7" height="2" fill="#f23645"/>
<rect x="780" y="628" width="1" height="36" fill="#f23645"/>
<rect x="777" y="628" width="7" height="15" fill="#f23645"/>
<rect x="791" y="632" width="1" height="34" fill="#f23645"/>
<rect x="788" y="637" width="7" height="29" fill="#f23645"/>
<rect x="798" y="668" width="7" height="1" fill="#089981"/>
<rect x="811" y="659" width="1" height="15" fill="#f23645"/>
<rect x="808" y="671" width="7" height="3" fill="#f23645"/>
<rect x="819" y="676" width="7" height="2" fill="#f23645"/>
<rect x="832" y="652" width="1" height="28" fill="#089981"/>
<rect x="829" y="662" width="7" height="16" fill="#089981"/>
<rect x="839" y="627" width="7" height="47" fill="#089981"/>
<rect x="852" y="621" width="1" height="15" fill="#089981"/>
<rect x="849" y="621" width="7" height="2" fill="#089981"/>
<rect x="863" y="618" width="1" height="16" fill="#f23645"/>
<rect x="860" y="618" width="7" height="8" fill="#f23645"/>
<rect x="870" y="606" width="7" height="26" fill="#089981"/>
<rect x="883" y="589" width="1" height="14" fill="#089981"/>
<rect x="880" y="589" width="7" height="1" fill="#089981"/>
<rect x="891" y="579" width="7" height="1" fill="#089981"/>
<rect x="901" y="570" width="7" height="1" fill="#089981"/>
<rect x="911" y="556" width="7" height="1" fill="#089981"/>
<rect x="921" y="549" width="7" height="1" fill="#089981"/>
<rect x="935" y="537" width="1" height="27" fill="#f23645"/>
<rect x="932" y="537" width="7" height="10" fill="#f23645"/>
<rect x="945" y="538" width="1" height="27" fill="#f23645"/>
<rect x="942" y="543" width="7" height="18" fill="#f23645"/>
<rect x="952" y="575" width="7" height="1" fill="#089981"/>
<rect x="966" y="552" width="1" height="32" fill="#089981"/>
<rect x="963" y="572" width="7" height="12" fill="#089981"/>
<rect x="976" y="553" width="1" height="13" fill="#f23645"/>
<rect x="973" y="561" width="7" height="2" fill="#f23645"/>
<rect x="983" y="553" width="7" height="21" fill="#089981"/>
<rect x="997" y="543" width="1" height="30" fill="#089981"/>
<rect x="994" y="543" width="7" height="19" fill="#089981"/>
<rect x="1004" y="537" width="7" height="29" fill="#089981"/>
<rect x="1014" y="522" width="7" height="1" fill="#089981"/>
<rect x="1024" y="509" width="7" height="1" fill="#089981"/>
<rect x="1038" y="489" width="1" height="25" fill="#f23645"/>
<rect x="1035" y="491" width="7" height="6" fill="#f23645"/>
<rect x="1048" y="488" width="1" height="30" fill="#089981"/>
<rect x="1045" y="494" width="7" height="18" fill="#089981"/>
<rect x="1058" y="474" width="1" height="7" fill="#089981"/>
<rect x="1055" y="474" width="7" height="3" fill="#089981"/>
<rect x="1066" y="459" width="7" height="1" fill="#089981"/>
<rect x="1079" y="446" width="1" height="7" fill="#f23645"/>
<rect x="1076" y="446" width="7" height="1" fill="#f23645"/>
<rect x="1089" y="424" width="1" height="25" fill="#f23645"/>
<rect x="1086" y="424" width="7" height="14" fill="#f23645"/>
<rect x="1099" y="423" width="1" height="48" fill="#f23645"/>
<rect x="1096" y="423" width="7" height="28" fill="#f23645"/>
<rect x="1110" y="423" width="1" height="29" fill="#f23645"/>
<rect x="1107" y="423" width="7" height="24" fill="#f23645"/>
<rect x="1120" y="418" width="1" height="27" fill="#089981"/>
<rect x="1117" y="418" width="7" height="24" fill="#089981"/>
<rect x="1130" y="395" width="1" height="15" fill="#089981"/>
<rect x="1127" y="395" width="7" height="1" fill="#089981"/>
<rect x="1141" y="378" width="1" height="32" fill="#f23645"/>
<rect x="1138" y="378" width="7" height="27" fill="#f23645"/>
<rect x="1151" y="394" width="1" height="14" fill="#f23645"/>
<rect x="1148" y="394" width="7" height="3" fill="#f23645"/>
<rect x="1158" y="371" width="7" height="20" fill="#089981"/>
<rect x="1172" y="344" width="1" height="4" fill="#089981"/>
<rect x="1169" y="344" width="7" height="1" fill="#089981"/>
<rect x="1182" y="325" width="1" height="23" fill="#f23645"/>
<rect x="1179" y="325" width="7" height="21" fill="#f23645"/>
<rect x="1192" y="330" width="1" height="14" fill="#f23645"/>
<rect x="1189" y="337" width="7" height="6" fill="#f23645"/>
<rect x="1202" y="311" width="1" height="24" fill="#089981"/>
<rect x="1199" y="311" width="7" height="2" fill="#089981"/>
<rect x="1213" y="314" width="1" height="23" fill="#089981"/>
<rect x="1210" y="316" width="7" height="21" fill="#089981"/>
<rect x="1223" y="289" width="1" height="26" fill="#089981"/>
<rect x="1220" y="311" width="7" height="4" fill="#089981"/>
<rect x="1233" y="290" width="1" height="21" fill="#f23645"/>
<rect x="1230" y="290" width="7" height="19" fill="#f23645"/>
<rect x="1244" y="304" width="1" height="13" fill="#f23645"/>
<rect x="1241" y="310" width="7" height="2" fill="#f23645"/>
<rect x="1254" y="300" width="1" height="16" fill="#f23645"/>
<rect x="1251" y="300" width="7" height="13" fill="#f23645"/>
<rect x="1264" y="309" width="1" height="14" fill="#f23645"/>
<rect x="1261" y="309" width="7" height="6" fill="#f23645"/>
<rect x="1274" y="314" width="1" height="8" fill="#f23645"/>
<rect x="1271" y="314" width="7" height="6" fill="#f23645"/>
<rect x="1285" y="309" width="1" height="13" fill="#f23645"/>
<rect x="1282" y="317" width="7" height="5" fill="#f23645"/>
<rect x="1295" y="317" width="1" height="8" fill="#f23645"/>
<rect x="1292" y="318" width="7" height="2" fill="#f23645"/>
<rect x="1305" y="314" width="1" height="16" fill="#089981"/>
<rect x="1302" y="320" width="7" height="6" fill="#089981"/>
<rect x="1316" y="315" width="1" height="21" fill="#f23645"/>
<rect x="1313" y="315" width="7" height="11" fill="#f23645"/>
<rect x="1326" y="317" width="1" height="29" fill="#f23645"/>
<rect x="1323" y="317" width="7" height="9" fill="#f23645"/>
<rect x="1336" y="319" width="1" height="16" fill="#f23645"/>
<rect x="1333" y="319" width="7" height="10" fill="#f23645"/>
<rect x="1344" y="314" width="7" height="24" fill="#f23645"/>
<rect x="1357" y="314" width="1" height="18" fill="#089981"/>
<rect x="1354" y="322" width="7" height="6" fill="#089981"/>
<rect x="1367" y="318" width="1" height="10" fill="#f23645"/>
<rect x="1364" y="321" width="7" height="7" fill="#f23645"/>
<rect x="1377" y="318" width="1" height="4" fill="#089981"/>
<rect x="1374" y="319" width="7" height="2" fill="#089981"/>
<rect x="1388" y="308" width="1" height="15" fill="#f23645"/>
<rect x="1385" y="315" width="7" height="8" fill="#f23645"/>
<rect x="1398" y="288" width="1" height="14" fill="#089981"/>
<rect x="1395" y="288" width="7" height="1" fill="#089981"/>
<rect x="1408" y="261" width="1" height="9" fill="#089981"/>
<rect x="1405" y="261" width="7" height="1" fill="#089981"/>
<rect x="1419" y="242" width="1" height="15" fill="#f23645"/>
<rect x="1416" y="246" width="7" height="5" fill="#f23645"/>
<rect x="1429" y="241" width="1" height="15" fill="#f23645"/>
<rect x="1426" y="241" width="7" height="6" fill="#f23645"/>
<rect x="1439" y="222" width="1" height="6" fill="#f23645"/>
<rect x="1436" y="222" width="7" height="5" fill="#f23645"/>
<rect x="1449" y="195" width="1" height="42" fill="#f23645"/>
<rect x="1446" y="195" width="7" height="32" fill="#f23645"/>
<rect x="1460" y="198" width="1" height="18" fill="#089981"/>
<rect x="1457" y="198" width="7" height="7" fill="#089981"/>
<rect x="1470" y="179" width="1" height="15" fill="#089981"/>
<rect x="1467" y="183" width="7" height="1" fill="#089981"/>
<rect x="1480" y="174" width="1" height="11" fill="#f23645"/>
<rect x="1477" y="175" width="7" height="8" fill="#f23645"/>
<rect x="1491" y="165" width="1" height="27" fill="#089981"/>
<rect x="1488" y="174" width="7" height="7" fill="#089981"/>
<rect x="1501" y="155" width="1" height="18" fill="#f23645"/>
<rect x="1498" y="165" width="7" height="8" fill="#f23645"/>
<rect x="1508" y="148" width="7" height="27" fill="#089981"/>
<rect x="1521" y="147" width="1" height="38" fill="#f23645"/>
<rect x="1518" y="147" width="7" height="20" fill="#f23645"/>
<rect x="1532" y="160" width="1" height="21" fill="#089981"/>
<rect x="1529" y="176" width="7" height="5" fill="#089981"/>
<rect x="1539" y="146" width="7" height="33" fill="#089981"/>
</g>
<circle cx="183.5" cy="375" r="3.8" fill="#0496ff" stroke="#0a7cd8" stroke-width="1.5"/>
</g>
<g shape-rendering="crispEdges" fill="#e0e3eb"><rect x="10" y="752" width="1667" height="1"/><rect x="1678" y="752" width="68" height="1"/></g>
<g clip-path="url(#axis)" fill="#131722" stroke="#131722" stroke-width="0.2">
<text x="1685" y="16.0">240,000</text>
<text x="1685" y="56.0">230,000</text>
<text x="1685" y="98.0">220,000</text>
<text x="1685" y="141.0">210,000</text>
<text x="1685" y="187.0">200,000</text>
<text x="1685" y="265.0">184,000</text>
<text x="1685" y="307.0">176,000</text>
<text x="1685" y="351.0">168,000</text>
<text x="1685" y="394.0">160,500</text>
<text x="1685" y="438.0">153,000</text>
<text x="1685" y="476.0">147,000</text>
<text x="1685" y="515.0">141,000</text>
<text x="1685" y="556.0">135,000</text>
<text x="1685" y="598.0">129,000</text>
<text x="1685" y="636.0">124,000</text>
<text x="1685" y="666.0">120,000</text>
<text x="1685" y="698.0">116,000</text>
<text x="1685" y="731.0">112,000</text>
</g>
<path d="M1677,138.2H1731.0a2,2 0 0 1 2,2V152.5a2,2 0 0 1 -2,2H1677Z" fill="#089981"/>
<text x="1685.4" y="149.9" fill="#fff" stroke="#fff" stroke-width="0.35">208,140</text>
<path d="M1677,161.3H1731.0a2,2 0 0 1 2,2V175.7a2,2 0 0 1 -2,2H1677Z" fill="#2962ff"/>
<text x="1685.4" y="173.1" fill="#fff" stroke="#fff" stroke-width="0.35">202,987</text>
<path d="M1677,200.3H1731.0a2,2 0 0 1 2,2V214.7a2,2 0 0 1 -2,2H1677Z" fill="#2962ff"/>
<text x="1685.4" y="212.1" fill="#fff" stroke="#fff" stroke-width="0.35">194,762</text>
<path d="M1677,217.5H1731.0a2,2 0 0 1 2,2V231.8a2,2 0 0 1 -2,2H1677Z" fill="#a5d6a7"/>
<text x="1685.4" y="229.2" fill="#131722" stroke="#131722" stroke-width="0.2">194,403</text>
<path d="M1677,241.3H1731.0a2,2 0 0 1 2,2V255.7a2,2 0 0 1 -2,2H1677Z" fill="#2196f3"/>
<text x="1685.4" y="253.1" fill="#fff" stroke="#fff" stroke-width="0.35">186,462</text>
<path d="M1677,307.3H1731.0a2,2 0 0 1 2,2V321.8a2,2 0 0 1 -2,2H1677Z" fill="#faa1a4"/>
<text x="1685.4" y="319.2" fill="#131722" stroke="#131722" stroke-width="0.2">173,715</text>
<path d="M1677,730.3H1740.0a2,2 0 0 1 2,2V744.8a2,2 0 0 1 -2,2H1677Z" fill="#22ab94"/>
<text x="1685.4" y="742.1" fill="#fff" stroke="#fff" stroke-width="0.35">490.881K</text>
<g fill="#131722" text-anchor="middle" direction="rtl" stroke="#131722" stroke-width="0.2">
<text transform="translate(121.6,769) scale(0.825,1)" x="0" y="0" font-weight="bold">اردیبهشت</text>
<text transform="translate(203.7,769) scale(0.968,1)" x="0" y="0">28 اردیبهشت</text>
<text transform="translate(306.8,769) scale(0.843,1)" x="0" y="0" font-weight="bold">خرداد</text>
<text transform="translate(420.3,769) scale(0.743,1)" x="0" y="0" font-weight="bold">تیر</text>
<text transform="translate(502.7,769) scale(0.990,1)" x="0" y="0">24 تیر</text>
<text transform="translate(626.1,769) scale(0.831,1)" x="0" y="0" font-weight="bold">مرداد</text>
<text transform="translate(708.1,769) scale(0.936,1)" x="0" y="0">21 مرداد</text>
<text transform="translate(842.3,769) scale(0.726,1)" x="0" y="0" font-weight="bold">شهریور</text>
<text transform="translate(925.0,769) scale(0.921,1)" x="0" y="0">24 شهریور</text>
<text transform="translate(1047.9,769) scale(0.714,1)" x="0" y="0" font-weight="bold">مهر</text>
<text transform="translate(1130.4,769) scale(0.938,1)" x="0" y="0">21 مهر</text>
<text transform="translate(1264.2,769) scale(0.790,1)" x="0" y="0" font-weight="bold">آبان</text>
<text transform="translate(1346.4,769) scale(0.962,1)" x="0" y="0">20 آبان</text>
<text transform="translate(1480.4,769) scale(0.738,1)" x="0" y="0" font-weight="bold">آذر</text>
<text transform="translate(1562.6,769) scale(0.928,1)" x="0" y="0">22 آذر</text>
</g>
<g fill="#131722" stroke="#131722" stroke-width="0.2">
<text transform="translate(18.1,27.8) scale(0.956,1)">جم پیلن, بورس</text>
<text transform="translate(97.6,27.8) scale(0.841,1)">باز</text>
<text x="109.4" y="27.8" fill="#089981" stroke="#089981" stroke-width="0.2">201,150</text>
<text transform="translate(159.2,27.8) scale(1.005,1)">بیشترین</text>
<text x="200" y="27.8" fill="#089981" stroke="#089981" stroke-width="0.2">208,140</text>
<text transform="translate(250.0,27.8) scale(0.952,1)">کمترین</text>
<text x="284" y="27.8" fill="#089981" stroke="#089981" stroke-width="0.2">201,150</text>
<text transform="translate(334.0,27.8) scale(0.934,1)">آخرین</text>
<text x="362.5" y="27.8" fill="#089981" stroke="#089981" stroke-width="0.2">208,140</text>
<text transform="translate(18.1,44.8) scale(1.043,1)">حجم</text>
<text x="49.8" y="44.8" fill="#22ab94" stroke="#22ab94" stroke-width="0.2">490.881K</text>
<text x="18" y="61.7">MA</text><text x="44.3" y="61.7" fill="#2196f3" stroke="#2196f3" stroke-width="0.2">186,462</text>
<text x="18" y="78.5">Ichimoku</text><text x="74.7" y="78.5" fill="#a5d6a7" stroke="#a5d6a7" stroke-width="0.2">194,403</text><text x="124.6" y="78.5" fill="#faa1a4" stroke="#faa1a4" stroke-width="0.2">173,715</text>
</g>
</svg></body></html>
